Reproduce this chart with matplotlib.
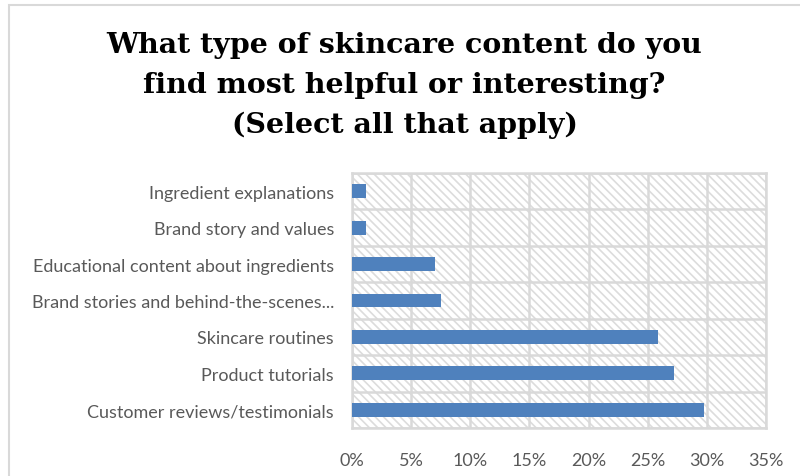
import matplotlib.pyplot as plt
import matplotlib.patches as mpatches
from matplotlib.ticker import FuncFormatter, MultipleLocator

categories = [
    "Customer reviews/testimonials",
    "Product tutorials",
    "Skincare routines",
    "Brand stories and behind-the-scenes...",
    "Educational content about ingredients",
    "Brand story and values",
    "Ingredient explanations",
]
shares = [29.8, 27.2, 25.9, 7.5, 7.0, 1.2, 1.2]  # percent of respondents

title = ("What type of skincare content do you\n"
         "find most helpful or interesting?\n"
         "(Select all that apply)")

plt.rcParams['hatch.color'] = '#dcdcdc'
plt.rcParams['hatch.linewidth'] = 1.2

fig = plt.figure(figsize=(8, 4.77), dpi=100)

# outer chart border (only top and left edges fall inside the image)
fig.add_artist(mpatches.Rectangle((9 / 800, -0.1), 1.2, 1 - 6 / 477 + 0.1,
                                  transform=fig.transFigure, fill=False,
                                  edgecolor='#d9d9d9', linewidth=1.5))

ax = fig.add_axes([352 / 800, 1 - 429 / 477, (766 - 352) / 800, (429 - 174) / 477])

# hatched plot background
ax.add_patch(mpatches.Rectangle((0, 0), 1, 1, transform=ax.transAxes,
                                facecolor='white', hatch='\\\\\\\\',
                                edgecolor='#dcdcdc', linewidth=0, zorder=0))

y = range(len(categories))
ax.barh(y, shares, height=0.38, color='#4f81bd', zorder=3)

ax.set_xlim(0, 35)
ax.set_ylim(-0.5, len(categories) - 0.5)
ax.xaxis.set_major_locator(MultipleLocator(5))
ax.xaxis.set_major_formatter(FuncFormatter(lambda v, p: f"{v:.0f}%"))
ax.set_yticks(list(y))
ax.set_yticklabels(categories)
ax.set_yticks([i + 0.5 for i in range(-1, len(categories))], minor=True)

ax.grid(axis='x', which='major', color='#d9d9d9', linewidth=1.8, zorder=1)
ax.grid(axis='y', which='minor', color='#d9d9d9', linewidth=1.8, zorder=1)
ax.set_axisbelow(True)
ax.tick_params(which='both', length=0)
ax.tick_params(axis='y', pad=13, labelsize=13, labelcolor='#595959')
ax.tick_params(axis='x', pad=17, labelsize=13, labelcolor='#595959')
for lab in ax.get_xticklabels() + ax.get_yticklabels():
    lab.set_family('Lato')
for s in ax.spines.values():
    s.set_color('#d9d9d9')
    s.set_linewidth(1.8)

fig.text(0.5 * (800 + 9) / 800, 1 - 32 / 477, title, ha='center', va='top',
         fontsize=20.5, fontweight='bold', family='DejaVu Serif',
         color='#000000', linespacing=1.6)

fig.savefig('out.png', dpi=100)
